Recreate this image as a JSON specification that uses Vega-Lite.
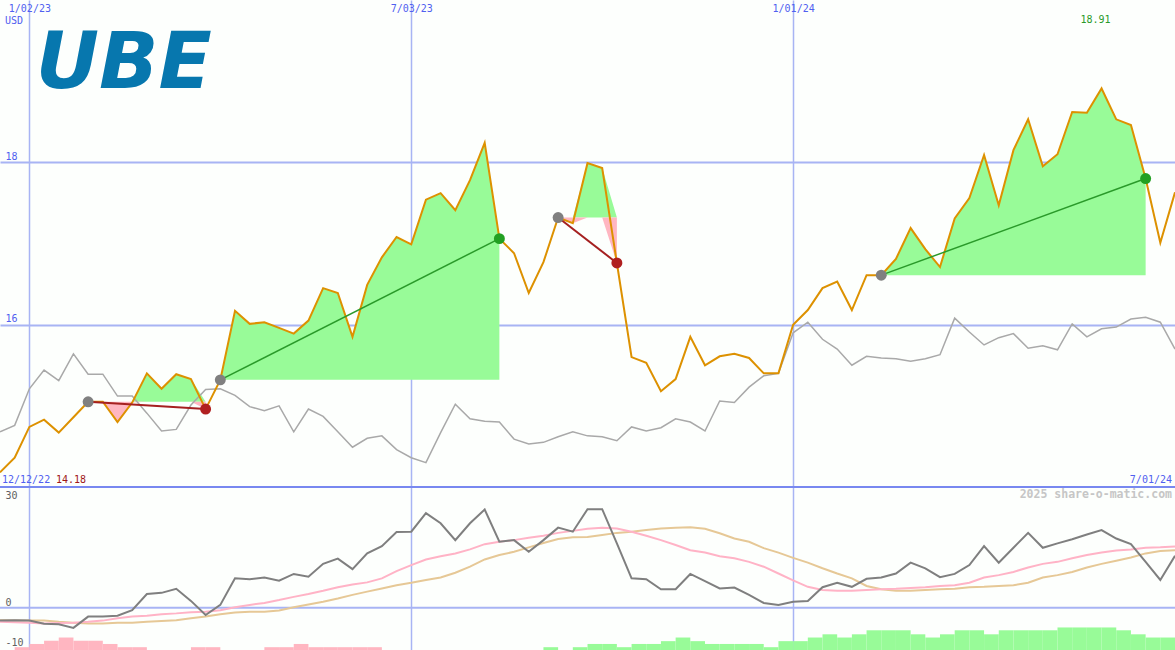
{
"$schema": "https://vega.github.io/schema/vega-lite/v6.json",
"autosize": {"type": "pad"},
"padding": 0,
"background": "#fdfffd",
"spacing": 0,
"bounds": "flush",
"datasets": {
"weekly": [
{"date":"2022-12-19","price":14.18,"bench":14.68,"mom":-3.2,"fast":-3.5,"slow":-3.1},
{"date":"2022-12-26","price":14.36,"bench":14.76,"mom":-3.1,"fast":-3.6,"slow":-3.2},
{"date":"2023-01-02","price":14.74,"bench":15.21,"mom":-3.2,"fast":-3.7,"slow":-3.2},
{"date":"2023-01-09","price":14.83,"bench":15.44,"mom":-4.0,"fast":-3.9,"slow":-3.2},
{"date":"2023-01-16","price":14.67,"bench":15.31,"mom":-4.1,"fast":-3.8,"slow":-3.5},
{"date":"2023-01-23","price":14.86,"bench":15.64,"mom":-5.0,"fast":-3.7,"slow":-3.7},
{"date":"2023-01-30","price":15.05,"bench":15.39,"mom":-2.2,"fast":-3.5,"slow":-3.9},
{"date":"2023-02-06","price":15.05,"bench":15.39,"mom":-2.2,"fast":-3.2,"slow":-3.9},
{"date":"2023-02-13","price":14.80,"bench":15.12,"mom":-2.0,"fast":-2.6,"slow":-3.7},
{"date":"2023-02-20","price":15.04,"bench":15.12,"mom":-0.6,"fast":-2.2,"slow":-3.7},
{"date":"2023-02-27","price":15.40,"bench":14.91,"mom":3.4,"fast":-2.0,"slow":-3.5},
{"date":"2023-03-06","price":15.21,"bench":14.69,"mom":3.7,"fast":-1.6,"slow":-3.3},
{"date":"2023-03-13","price":15.39,"bench":14.71,"mom":4.7,"fast":-1.4,"slow":-3.1},
{"date":"2023-03-20","price":15.33,"bench":15.01,"mom":1.7,"fast":-1.1,"slow":-2.6},
{"date":"2023-03-27","price":14.96,"bench":15.20,"mom":-1.8,"fast":-1.0,"slow":-2.2},
{"date":"2023-04-03","price":15.32,"bench":15.21,"mom":0.7,"fast":-0.6,"slow":-1.6},
{"date":"2023-04-10","price":16.17,"bench":15.13,"mom":7.3,"fast":0.1,"slow":-1.2},
{"date":"2023-04-17","price":16.01,"bench":14.99,"mom":7.1,"fast":0.7,"slow":-1.0},
{"date":"2023-04-24","price":16.03,"bench":14.94,"mom":7.5,"fast":1.2,"slow":-1.0},
{"date":"2023-05-01","price":15.96,"bench":15.00,"mom":6.7,"fast":1.9,"slow":-0.7},
{"date":"2023-05-08","price":15.89,"bench":14.68,"mom":8.4,"fast":2.7,"slow":0.1},
{"date":"2023-05-15","price":16.05,"bench":14.96,"mom":7.7,"fast":3.4,"slow":0.8},
{"date":"2023-05-22","price":16.45,"bench":14.87,"mom":10.9,"fast":4.2,"slow":1.5},
{"date":"2023-05-29","price":16.39,"bench":14.68,"mom":12.2,"fast":5.1,"slow":2.3},
{"date":"2023-06-05","price":15.85,"bench":14.49,"mom":9.6,"fast":5.8,"slow":3.2},
{"date":"2023-06-12","price":16.49,"bench":14.60,"mom":13.5,"fast":6.3,"slow":4.0},
{"date":"2023-06-19","price":16.83,"bench":14.63,"mom":15.3,"fast":7.3,"slow":4.8},
{"date":"2023-06-26","price":17.08,"bench":14.46,"mom":18.8,"fast":9.1,"slow":5.6},
{"date":"2023-07-03","price":16.99,"bench":14.36,"mom":18.9,"fast":10.6,"slow":6.2},
{"date":"2023-07-10","price":17.54,"bench":14.30,"mom":23.5,"fast":12.0,"slow":6.9},
{"date":"2023-07-17","price":17.62,"bench":14.67,"mom":21.0,"fast":12.8,"slow":7.5},
{"date":"2023-07-24","price":17.41,"bench":15.02,"mom":16.8,"fast":13.5,"slow":8.7},
{"date":"2023-07-31","price":17.78,"bench":14.84,"mom":21.0,"fast":14.5,"slow":10.2},
{"date":"2023-08-07","price":18.24,"bench":14.81,"mom":24.4,"fast":15.8,"slow":12.0},
{"date":"2023-08-14","price":17.06,"bench":14.80,"mom":16.4,"fast":16.4,"slow":13.1},
{"date":"2023-08-21","price":16.88,"bench":14.59,"mom":16.8,"fast":16.8,"slow":13.9},
{"date":"2023-08-28","price":16.39,"bench":14.53,"mom":13.9,"fast":17.4,"slow":15.0},
{"date":"2023-09-04","price":16.77,"bench":14.55,"mom":16.8,"fast":17.9,"slow":16.1},
{"date":"2023-09-11","price":17.32,"bench":14.62,"mom":19.9,"fast":18.6,"slow":17.1},
{"date":"2023-09-18","price":17.25,"bench":14.68,"mom":18.9,"fast":19.1,"slow":17.5},
{"date":"2023-09-25","price":17.99,"bench":14.63,"mom":24.5,"fast":19.6,"slow":17.6},
{"date":"2023-10-02","price":17.93,"bench":14.62,"mom":24.5,"fast":19.9,"slow":18.1},
{"date":"2023-10-09","price":16.76,"bench":14.57,"mom":16.0,"fast":19.7,"slow":18.6},
{"date":"2023-10-16","price":15.60,"bench":14.74,"mom":7.3,"fast":18.9,"slow":18.9},
{"date":"2023-10-23","price":15.53,"bench":14.69,"mom":7.1,"fast":17.9,"slow":19.3},
{"date":"2023-10-30","price":15.18,"bench":14.73,"mom":4.6,"fast":16.8,"slow":19.7},
{"date":"2023-11-06","price":15.33,"bench":14.84,"mom":4.6,"fast":15.6,"slow":19.9},
{"date":"2023-11-13","price":15.85,"bench":14.80,"mom":8.4,"fast":14.3,"slow":20.0},
{"date":"2023-11-20","price":15.50,"bench":14.69,"mom":6.6,"fast":13.7,"slow":19.6},
{"date":"2023-11-27","price":15.61,"bench":15.06,"mom":4.8,"fast":12.8,"slow":18.5},
{"date":"2023-12-04","price":15.64,"bench":15.04,"mom":5.0,"fast":12.3,"slow":17.2},
{"date":"2023-12-11","price":15.59,"bench":15.23,"mom":3.2,"fast":11.4,"slow":16.4},
{"date":"2023-12-18","price":15.40,"bench":15.37,"mom":1.2,"fast":10.2,"slow":14.8},
{"date":"2023-12-25","price":15.40,"bench":15.40,"mom":0.7,"fast":8.5,"slow":13.7},
{"date":"2024-01-01","price":16.00,"bench":15.90,"mom":1.5,"fast":6.8,"slow":12.4},
{"date":"2024-01-08","price":16.18,"bench":16.03,"mom":1.7,"fast":5.2,"slow":11.2},
{"date":"2024-01-15","price":16.45,"bench":15.82,"mom":5.1,"fast":4.4,"slow":9.8},
{"date":"2024-01-22","price":16.53,"bench":15.70,"mom":6.2,"fast":4.2,"slow":8.5},
{"date":"2024-01-29","price":16.18,"bench":15.50,"mom":5.2,"fast":4.2,"slow":7.3},
{"date":"2024-02-05","price":16.61,"bench":15.61,"mom":7.2,"fast":4.4,"slow":5.4},
{"date":"2024-02-12","price":16.61,"bench":15.59,"mom":7.5,"fast":4.6,"slow":4.6},
{"date":"2024-02-19","price":16.81,"bench":15.58,"mom":8.5,"fast":4.7,"slow":4.2},
{"date":"2024-02-26","price":17.19,"bench":15.55,"mom":11.2,"fast":4.9,"slow":4.2},
{"date":"2024-03-04","price":16.93,"bench":15.58,"mom":9.8,"fast":5.1,"slow":4.4},
{"date":"2024-03-11","price":16.71,"bench":15.63,"mom":7.6,"fast":5.4,"slow":4.6},
{"date":"2024-03-18","price":17.31,"bench":16.08,"mom":8.4,"fast":5.6,"slow":4.7},
{"date":"2024-03-25","price":17.56,"bench":15.91,"mom":10.6,"fast":6.2,"slow":5.1},
{"date":"2024-04-01","price":18.09,"bench":15.75,"mom":15.3,"fast":7.5,"slow":5.2},
{"date":"2024-04-08","price":17.47,"bench":15.84,"mom":11.2,"fast":8.1,"slow":5.4},
{"date":"2024-04-15","price":18.15,"bench":15.89,"mom":14.9,"fast":8.9,"slow":5.6},
{"date":"2024-04-22","price":18.53,"bench":15.71,"mom":18.6,"fast":10.0,"slow":6.2},
{"date":"2024-04-29","price":17.95,"bench":15.74,"mom":14.9,"fast":10.9,"slow":7.5},
{"date":"2024-05-06","price":18.10,"bench":15.69,"mom":16.0,"fast":11.4,"slow":8.1},
{"date":"2024-05-13","price":18.62,"bench":16.01,"mom":17.0,"fast":12.3,"slow":8.9},
{"date":"2024-05-20","price":18.61,"bench":15.85,"mom":18.2,"fast":13.1,"slow":10.0},
{"date":"2024-05-27","price":18.91,"bench":15.95,"mom":19.3,"fast":13.7,"slow":10.9},
{"date":"2024-06-03","price":18.53,"bench":15.97,"mom":17.2,"fast":14.2,"slow":11.7},
{"date":"2024-06-10","price":18.46,"bench":16.07,"mom":15.8,"fast":14.5,"slow":12.5},
{"date":"2024-06-17","price":17.80,"bench":16.09,"mom":11.4,"fast":14.9,"slow":13.5},
{"date":"2024-06-24","price":17.01,"bench":16.03,"mom":6.9,"fast":15.0,"slow":14.1},
{"date":"2024-07-01","price":17.63,"bench":15.70,"mom":12.9,"fast":15.2,"slow":14.3}
],
"fills": [
{"trade":1,"kind":"gain","date":"2023-01-30","v":15.05,"base":15.05},
{"trade":1,"kind":"gain","date":"2023-02-06","v":15.05,"base":15.05},
{"trade":1,"kind":"gain","date":"2023-02-13","v":15.05,"base":15.05},
{"trade":1,"kind":"gain","date":"2023-02-20","v":15.05,"base":15.05},
{"trade":1,"kind":"gain","date":"2023-02-27","v":15.40,"base":15.05},
{"trade":1,"kind":"gain","date":"2023-03-06","v":15.21,"base":15.05},
{"trade":1,"kind":"gain","date":"2023-03-13","v":15.39,"base":15.05},
{"trade":1,"kind":"gain","date":"2023-03-20","v":15.33,"base":15.05},
{"trade":1,"kind":"gain","date":"2023-03-27","v":15.05,"base":15.05},
{"trade":1,"kind":"loss","date":"2023-01-30","v":15.05,"base":15.05},
{"trade":1,"kind":"loss","date":"2023-02-06","v":15.05,"base":15.05},
{"trade":1,"kind":"loss","date":"2023-02-13","v":14.80,"base":15.05},
{"trade":1,"kind":"loss","date":"2023-02-20","v":15.04,"base":15.05},
{"trade":1,"kind":"loss","date":"2023-02-27","v":15.05,"base":15.05},
{"trade":1,"kind":"loss","date":"2023-03-06","v":15.05,"base":15.05},
{"trade":1,"kind":"loss","date":"2023-03-13","v":15.05,"base":15.05},
{"trade":1,"kind":"loss","date":"2023-03-20","v":15.05,"base":15.05},
{"trade":1,"kind":"loss","date":"2023-03-27","v":14.96,"base":15.05},
{"trade":2,"kind":"gain","date":"2023-04-03","v":15.32,"base":15.32},
{"trade":2,"kind":"gain","date":"2023-04-10","v":16.17,"base":15.32},
{"trade":2,"kind":"gain","date":"2023-04-17","v":16.01,"base":15.32},
{"trade":2,"kind":"gain","date":"2023-04-24","v":16.03,"base":15.32},
{"trade":2,"kind":"gain","date":"2023-05-01","v":15.96,"base":15.32},
{"trade":2,"kind":"gain","date":"2023-05-08","v":15.89,"base":15.32},
{"trade":2,"kind":"gain","date":"2023-05-15","v":16.05,"base":15.32},
{"trade":2,"kind":"gain","date":"2023-05-22","v":16.45,"base":15.32},
{"trade":2,"kind":"gain","date":"2023-05-29","v":16.39,"base":15.32},
{"trade":2,"kind":"gain","date":"2023-06-05","v":15.85,"base":15.32},
{"trade":2,"kind":"gain","date":"2023-06-12","v":16.49,"base":15.32},
{"trade":2,"kind":"gain","date":"2023-06-19","v":16.83,"base":15.32},
{"trade":2,"kind":"gain","date":"2023-06-26","v":17.08,"base":15.32},
{"trade":2,"kind":"gain","date":"2023-07-03","v":16.99,"base":15.32},
{"trade":2,"kind":"gain","date":"2023-07-10","v":17.54,"base":15.32},
{"trade":2,"kind":"gain","date":"2023-07-17","v":17.62,"base":15.32},
{"trade":2,"kind":"gain","date":"2023-07-24","v":17.41,"base":15.32},
{"trade":2,"kind":"gain","date":"2023-07-31","v":17.78,"base":15.32},
{"trade":2,"kind":"gain","date":"2023-08-07","v":18.24,"base":15.32},
{"trade":2,"kind":"gain","date":"2023-08-14","v":17.06,"base":15.32},
{"trade":3,"kind":"gain","date":"2023-09-11","v":17.32,"base":17.32},
{"trade":3,"kind":"gain","date":"2023-09-18","v":17.32,"base":17.32},
{"trade":3,"kind":"gain","date":"2023-09-25","v":17.99,"base":17.32},
{"trade":3,"kind":"gain","date":"2023-10-02","v":17.93,"base":17.32},
{"trade":3,"kind":"gain","date":"2023-10-09","v":17.32,"base":17.32},
{"trade":3,"kind":"loss","date":"2023-09-11","v":17.32,"base":17.32},
{"trade":3,"kind":"loss","date":"2023-09-18","v":17.25,"base":17.32},
{"trade":3,"kind":"loss","date":"2023-09-25","v":17.32,"base":17.32},
{"trade":3,"kind":"loss","date":"2023-10-02","v":17.32,"base":17.32},
{"trade":3,"kind":"loss","date":"2023-10-09","v":16.76,"base":17.32},
{"trade":4,"kind":"gain","date":"2024-02-12","v":16.61,"base":16.61},
{"trade":4,"kind":"gain","date":"2024-02-19","v":16.81,"base":16.61},
{"trade":4,"kind":"gain","date":"2024-02-26","v":17.19,"base":16.61},
{"trade":4,"kind":"gain","date":"2024-03-04","v":16.93,"base":16.61},
{"trade":4,"kind":"gain","date":"2024-03-11","v":16.71,"base":16.61},
{"trade":4,"kind":"gain","date":"2024-03-18","v":17.31,"base":16.61},
{"trade":4,"kind":"gain","date":"2024-03-25","v":17.56,"base":16.61},
{"trade":4,"kind":"gain","date":"2024-04-01","v":18.09,"base":16.61},
{"trade":4,"kind":"gain","date":"2024-04-08","v":17.47,"base":16.61},
{"trade":4,"kind":"gain","date":"2024-04-15","v":18.15,"base":16.61},
{"trade":4,"kind":"gain","date":"2024-04-22","v":18.53,"base":16.61},
{"trade":4,"kind":"gain","date":"2024-04-29","v":17.95,"base":16.61},
{"trade":4,"kind":"gain","date":"2024-05-06","v":18.10,"base":16.61},
{"trade":4,"kind":"gain","date":"2024-05-13","v":18.62,"base":16.61},
{"trade":4,"kind":"gain","date":"2024-05-20","v":18.61,"base":16.61},
{"trade":4,"kind":"gain","date":"2024-05-27","v":18.91,"base":16.61},
{"trade":4,"kind":"gain","date":"2024-06-03","v":18.53,"base":16.61},
{"trade":4,"kind":"gain","date":"2024-06-10","v":18.46,"base":16.61},
{"trade":4,"kind":"gain","date":"2024-06-17","v":17.80,"base":16.61}
],
"trades": [
{"trade":1,"date":"2023-01-30","price":15.05,"role":"entry","result":"loss"},
{"trade":1,"date":"2023-03-27","price":14.96,"role":"exit","result":"loss"},
{"trade":2,"date":"2023-04-03","price":15.32,"role":"entry","result":"gain"},
{"trade":2,"date":"2023-08-14","price":17.06,"role":"exit","result":"gain"},
{"trade":3,"date":"2023-09-11","price":17.32,"role":"entry","result":"loss"},
{"trade":3,"date":"2023-10-09","price":16.76,"role":"exit","result":"loss"},
{"trade":4,"date":"2024-02-12","price":16.61,"role":"entry","result":"gain"},
{"trade":4,"date":"2024-06-17","price":17.80,"role":"exit","result":"gain"}
],
"hist": [
{"date":"2022-12-26","end":"2023-01-02","top":-9.8,"sign":"neg"},
{"date":"2023-01-02","end":"2023-01-09","top":-9.0,"sign":"neg"},
{"date":"2023-01-09","end":"2023-01-16","top":-8.2,"sign":"neg"},
{"date":"2023-01-16","end":"2023-01-23","top":-7.4,"sign":"neg"},
{"date":"2023-01-23","end":"2023-01-30","top":-8.2,"sign":"neg"},
{"date":"2023-01-30","end":"2023-02-06","top":-8.2,"sign":"neg"},
{"date":"2023-02-06","end":"2023-02-13","top":-9.0,"sign":"neg"},
{"date":"2023-02-13","end":"2023-02-20","top":-9.8,"sign":"neg"},
{"date":"2023-02-20","end":"2023-02-27","top":-9.8,"sign":"neg"},
{"date":"2023-03-20","end":"2023-03-27","top":-9.8,"sign":"neg"},
{"date":"2023-03-27","end":"2023-04-03","top":-9.8,"sign":"neg"},
{"date":"2023-04-24","end":"2023-05-01","top":-9.8,"sign":"neg"},
{"date":"2023-05-01","end":"2023-05-08","top":-9.8,"sign":"neg"},
{"date":"2023-05-08","end":"2023-05-15","top":-9.0,"sign":"neg"},
{"date":"2023-05-15","end":"2023-05-22","top":-9.8,"sign":"neg"},
{"date":"2023-05-22","end":"2023-05-29","top":-9.8,"sign":"neg"},
{"date":"2023-05-29","end":"2023-06-05","top":-9.8,"sign":"neg"},
{"date":"2023-06-05","end":"2023-06-12","top":-9.8,"sign":"neg"},
{"date":"2023-06-12","end":"2023-06-19","top":-9.8,"sign":"neg"},
{"date":"2023-09-04","end":"2023-09-11","top":-9.8,"sign":"pos"},
{"date":"2023-09-18","end":"2023-09-25","top":-9.8,"sign":"pos"},
{"date":"2023-09-25","end":"2023-10-02","top":-9.0,"sign":"pos"},
{"date":"2023-10-02","end":"2023-10-09","top":-9.0,"sign":"pos"},
{"date":"2023-10-09","end":"2023-10-16","top":-9.8,"sign":"pos"},
{"date":"2023-10-16","end":"2023-10-23","top":-9.0,"sign":"pos"},
{"date":"2023-10-23","end":"2023-10-30","top":-9.0,"sign":"pos"},
{"date":"2023-10-30","end":"2023-11-06","top":-8.3,"sign":"pos"},
{"date":"2023-11-06","end":"2023-11-13","top":-7.4,"sign":"pos"},
{"date":"2023-11-13","end":"2023-11-20","top":-8.3,"sign":"pos"},
{"date":"2023-11-20","end":"2023-11-27","top":-9.0,"sign":"pos"},
{"date":"2023-11-27","end":"2023-12-04","top":-9.0,"sign":"pos"},
{"date":"2023-12-04","end":"2023-12-11","top":-9.0,"sign":"pos"},
{"date":"2023-12-11","end":"2023-12-18","top":-9.0,"sign":"pos"},
{"date":"2023-12-18","end":"2023-12-25","top":-9.8,"sign":"pos"},
{"date":"2023-12-25","end":"2024-01-01","top":-8.3,"sign":"pos"},
{"date":"2024-01-01","end":"2024-01-08","top":-8.3,"sign":"pos"},
{"date":"2024-01-08","end":"2024-01-15","top":-7.4,"sign":"pos"},
{"date":"2024-01-15","end":"2024-01-22","top":-6.6,"sign":"pos"},
{"date":"2024-01-22","end":"2024-01-29","top":-7.4,"sign":"pos"},
{"date":"2024-01-29","end":"2024-02-05","top":-6.6,"sign":"pos"},
{"date":"2024-02-05","end":"2024-02-12","top":-5.6,"sign":"pos"},
{"date":"2024-02-12","end":"2024-02-19","top":-5.6,"sign":"pos"},
{"date":"2024-02-19","end":"2024-02-26","top":-5.6,"sign":"pos"},
{"date":"2024-02-26","end":"2024-03-04","top":-6.6,"sign":"pos"},
{"date":"2024-03-04","end":"2024-03-11","top":-7.4,"sign":"pos"},
{"date":"2024-03-11","end":"2024-03-18","top":-6.6,"sign":"pos"},
{"date":"2024-03-18","end":"2024-03-25","top":-5.6,"sign":"pos"},
{"date":"2024-03-25","end":"2024-04-01","top":-5.6,"sign":"pos"},
{"date":"2024-04-01","end":"2024-04-08","top":-6.6,"sign":"pos"},
{"date":"2024-04-08","end":"2024-04-15","top":-5.6,"sign":"pos"},
{"date":"2024-04-15","end":"2024-04-22","top":-5.6,"sign":"pos"},
{"date":"2024-04-22","end":"2024-04-29","top":-5.6,"sign":"pos"},
{"date":"2024-04-29","end":"2024-05-06","top":-5.6,"sign":"pos"},
{"date":"2024-05-06","end":"2024-05-13","top":-4.9,"sign":"pos"},
{"date":"2024-05-13","end":"2024-05-20","top":-4.9,"sign":"pos"},
{"date":"2024-05-20","end":"2024-05-27","top":-4.9,"sign":"pos"},
{"date":"2024-05-27","end":"2024-06-03","top":-4.9,"sign":"pos"},
{"date":"2024-06-03","end":"2024-06-10","top":-5.6,"sign":"pos"},
{"date":"2024-06-10","end":"2024-06-17","top":-6.6,"sign":"pos"},
{"date":"2024-06-17","end":"2024-06-24","top":-7.4,"sign":"pos"},
{"date":"2024-06-24","end":"2024-07-01","top":-7.4,"sign":"pos"}
]
},
"vconcat": [
{
"width": 1175,
"height": 487,
"layer": [
{"data": {"name": "fills"}, "transform": [{"filter": "datum.kind == 'gain'"}],
 "mark": {"type": "area", "color": "#98fb98", "opacity": 1, "clip": true},
 "encoding": {
  "x": {"field": "date", "type": "temporal",
   "scale": {"type": "utc", "domain": [{"year": 2022, "month": 12, "date": 19, "utc": true}, {"year": 2024, "month": 7, "date": 1, "utc": true}]},
   "axis": {"title": null, "orient": "top", "values": [{"year": 2023, "month": 1, "date": 2, "utc": true}, {"year": 2023, "month": 7, "date": 3, "utc": true}, {"year": 2024, "month": 1, "date": 1, "utc": true}],
    "format": "%-m/%d/%y", "labelColor": "#5060f0", "labelPadding": -8, "labelBaseline": "middle", "labelFlush": false, "grid": true, "gridWidth": 1.5, "gridColor": "#a8b4f4"}},
  "y": {"field": "v", "type": "quantitative",
   "scale": {"domain": [14, 20], "nice": false, "zero": false},
   "axis": {"title": null, "orient": "left", "values": [16, 18], "labelExpr": "'' + datum.value", "labelAlign": "left", "labelPadding": -5, "labelBaseline": "bottom", "labelOffset": -1, "labelColor": "#5060f0", "grid": true, "gridWidth": 2, "gridColor": "#a8b4f4"}},
  "y2": {"field": "base"},
  "detail": {"field": "trade"}
 }},
{"data": {"name": "fills"}, "transform": [{"filter": "datum.kind == 'loss'"}],
 "mark": {"type": "area", "color": "#ffb6c1", "opacity": 1, "clip": true},
 "encoding": {
  "x": {"field": "date", "type": "temporal"},
  "y": {"field": "v", "type": "quantitative"},
  "y2": {"field": "base"},
  "detail": {"field": "trade"}
 }},
{"data": {"name": "weekly"},
 "mark": {"type": "line", "color": "#a9a9a9", "strokeWidth": 1.5, "clip": true},
 "encoding": {
  "x": {"field": "date", "type": "temporal"},
  "y": {"field": "bench", "type": "quantitative"}
 }},
{"data": {"name": "weekly"},
 "mark": {"type": "line", "color": "#dd9100", "strokeWidth": 2, "clip": true},
 "encoding": {
  "x": {"field": "date", "type": "temporal"},
  "y": {"field": "price", "type": "quantitative"}
 }},
{"data": {"name": "trades"}, "transform": [{"filter": "datum.result == 'loss'"}],
 "mark": {"type": "line", "color": "#a52020", "strokeWidth": 2, "clip": true},
 "encoding": {
  "x": {"field": "date", "type": "temporal"},
  "y": {"field": "price", "type": "quantitative"},
  "detail": {"field": "trade"}
 }},
{"data": {"name": "trades"}, "transform": [{"filter": "datum.result == 'gain'"}],
 "mark": {"type": "line", "color": "#2a9a2a", "strokeWidth": 1.5, "clip": true},
 "encoding": {
  "x": {"field": "date", "type": "temporal"},
  "y": {"field": "price", "type": "quantitative"},
  "detail": {"field": "trade"}
 }},
{"data": {"name": "trades"}, "transform": [{"filter": "datum.role == 'entry'"}],
 "mark": {"type": "point", "shape": "circle", "filled": true, "opacity": 1, "size": 120, "color": "#808080", "clip": true},
 "encoding": {
  "x": {"field": "date", "type": "temporal"},
  "y": {"field": "price", "type": "quantitative"}
 }},
{"data": {"name": "trades"}, "transform": [{"filter": "datum.role == 'exit' && datum.result == 'loss'"}],
 "mark": {"type": "point", "shape": "circle", "filled": true, "opacity": 1, "size": 120, "color": "#b02020", "clip": true},
 "encoding": {
  "x": {"field": "date", "type": "temporal"},
  "y": {"field": "price", "type": "quantitative"}
 }},
{"data": {"name": "trades"}, "transform": [{"filter": "datum.role == 'exit' && datum.result == 'gain'"}],
 "mark": {"type": "point", "shape": "circle", "filled": true, "opacity": 1, "size": 120, "color": "#22a022", "clip": true},
 "encoding": {
  "x": {"field": "date", "type": "temporal"},
  "y": {"field": "price", "type": "quantitative"}
 }},
{"data": {"values": [{}]},
 "mark": {"type": "rule", "color": "#7888f0", "strokeWidth": 2, "clip": true},
 "encoding": {"y": {"datum": 14, "type": "quantitative"}}},
{"data": {"values": [{}]},
 "mark": {"type": "text", "text": "UBE", "font": "DejaVu Sans", "fontSize": 78, "fontWeight": "bold", "fontStyle": "italic", "color": "#0777ae", "align": "left", "baseline": "alphabetic"},
 "encoding": {
  "x": {"datum": {"year": 2023, "month": 1, "date": 5, "utc": true}, "type": "temporal"},
  "y": {"datum": 18.92, "type": "quantitative"}
 }},
{"data": {"values": [{}]},
 "mark": {"type": "text", "text": "USD", "font": "DejaVu Sans Mono", "fontSize": 10, "color": "#5060f0", "align": "left", "baseline": "middle", "dx": 5},
 "encoding": {
  "x": {"datum": {"year": 2022, "month": 12, "date": 19, "utc": true}, "type": "temporal"},
  "y": {"datum": 19.74, "type": "quantitative"}
 }},
{"data": {"values": [{}]},
 "mark": {"type": "text", "text": "12/12/22", "font": "DejaVu Sans Mono", "fontSize": 10, "color": "#5060f0", "align": "left", "baseline": "bottom", "dx": 2, "dy": -2},
 "encoding": {
  "x": {"datum": {"year": 2022, "month": 12, "date": 19, "utc": true}, "type": "temporal"},
  "y": {"datum": 14, "type": "quantitative"}
 }},
{"data": {"name": "weekly"}, "transform": [{"filter": "datum.price == 14.18"}],
 "mark": {"type": "text", "font": "DejaVu Sans Mono", "fontSize": 10, "color": "#a01818", "align": "left", "baseline": "bottom", "dx": 56, "dy": -2},
 "encoding": {
  "x": {"field": "date", "type": "temporal"},
  "y": {"datum": 14, "type": "quantitative"},
  "text": {"field": "price", "type": "quantitative", "format": ".2f"}
 }},
{"data": {"values": [{}]},
 "mark": {"type": "text", "text": "7/01/24", "font": "DejaVu Sans Mono", "fontSize": 10, "color": "#5060f0", "align": "right", "baseline": "bottom", "dx": -3, "dy": -2},
 "encoding": {
  "x": {"datum": {"year": 2024, "month": 7, "date": 1, "utc": true}, "type": "temporal"},
  "y": {"datum": 14, "type": "quantitative"}
 }},
{"data": {"name": "weekly"}, "transform": [{"filter": "datum.price == 18.91"}],
 "mark": {"type": "text", "font": "DejaVu Sans Mono", "fontSize": 10, "color": "#2a9a2a", "align": "center", "baseline": "middle", "dx": -6},
 "encoding": {
  "x": {"field": "date", "type": "temporal"},
  "y": {"datum": 19.75, "type": "quantitative"},
  "text": {"field": "price", "type": "quantitative", "format": ".2f"}
 }}
]
},
{
"width": 1175,
"height": 163,
"layer": [
{"data": {"name": "hist"},
 "mark": {"type": "rect", "clip": true},
 "encoding": {
  "x": {"field": "date", "type": "temporal",
   "scale": {"type": "utc", "domain": [{"year": 2022, "month": 12, "date": 19, "utc": true}, {"year": 2024, "month": 7, "date": 1, "utc": true}]},
   "axis": {"title": null, "orient": "bottom", "values": [{"year": 2023, "month": 1, "date": 2, "utc": true}, {"year": 2023, "month": 7, "date": 3, "utc": true}, {"year": 2024, "month": 1, "date": 1, "utc": true}],
    "labels": false, "grid": true, "gridWidth": 1.5, "gridColor": "#a8b4f4"}},
  "x2": {"field": "end"},
  "y": {"field": "top", "type": "quantitative",
   "scale": {"domain": [-10.5, 30], "nice": false, "zero": false},
   "axis": {"title": null, "orient": "left", "values": [-10, 0, 30], "labelExpr": "'' + datum.value", "labelAlign": "left", "labelPadding": -5,
    "labelBaseline": {"condition": {"test": "datum.value == 30", "value": "top"}, "value": "bottom"},
    "labelOffset": {"condition": {"test": "datum.value == 30", "value": 3}, "value": 0},
    "labelColor": "#606060", "labelFlush": false, "grid": false}},
  "y2": {"datum": -10.5},
  "color": {"field": "sign", "type": "nominal", "scale": {"domain": ["neg", "pos"], "range": ["#ffb6c1", "#98fb98"]}, "legend": null}
 }},
{"data": {"values": [{}]},
 "mark": {"type": "rule", "color": "#a8b4f4", "strokeWidth": 2, "clip": true},
 "encoding": {"y": {"datum": 0, "type": "quantitative"}}},
{"data": {"name": "weekly"},
 "mark": {"type": "line", "color": "#e6c896", "strokeWidth": 2, "clip": true},
 "encoding": {
  "x": {"field": "date", "type": "temporal"},
  "y": {"field": "slow", "type": "quantitative"}
 }},
{"data": {"name": "weekly"},
 "mark": {"type": "line", "color": "#ffb3c6", "strokeWidth": 2, "clip": true},
 "encoding": {
  "x": {"field": "date", "type": "temporal"},
  "y": {"field": "fast", "type": "quantitative"}
 }},
{"data": {"name": "weekly"},
 "mark": {"type": "line", "color": "#7f7f7f", "strokeWidth": 2, "clip": true},
 "encoding": {
  "x": {"field": "date", "type": "temporal"},
  "y": {"field": "mom", "type": "quantitative"}
 }},
{"data": {"values": [{}]},
 "mark": {"type": "rule", "color": "#7888f0", "strokeWidth": 2, "clip": true},
 "encoding": {"y": {"datum": 30, "type": "quantitative"}}},
{"data": {"values": [{}]},
 "mark": {"type": "text", "text": "2025 share-o-matic.com", "font": "DejaVu Sans Mono", "fontSize": 11.5, "fontWeight": "bold", "color": "#c6c6c6", "align": "right", "baseline": "middle", "dx": -3},
 "encoding": {
  "x": {"datum": {"year": 2024, "month": 7, "date": 1, "utc": true}, "type": "temporal"},
  "y": {"datum": 28, "type": "quantitative"}
 }}
]
}
],
"config": {
 "view": {"stroke": null},
 "axis": {"domain": false, "ticks": false, "title": null, "labelFont": "DejaVu Sans Mono", "labelFontSize": 10, "labelOverlap": false}
}
}
